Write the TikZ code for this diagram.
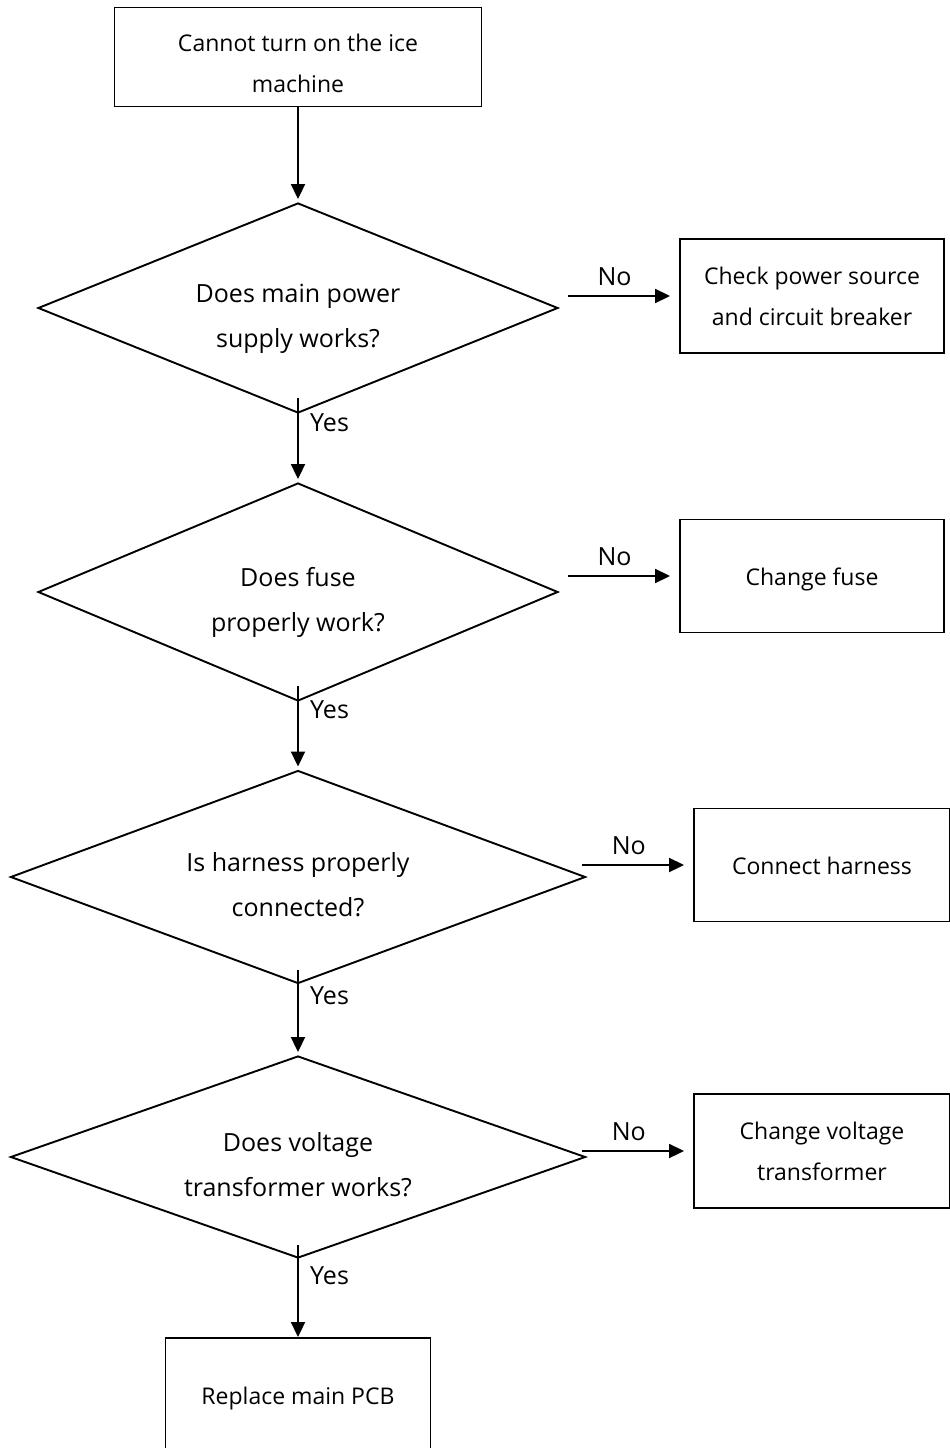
\documentclass[tikz,border=0pt]{standalone}
\usepackage{fontspec}
\setmainfont{Open Sans}
\usetikzlibrary{shapes.geometric,arrows.meta,positioning}

\begin{document}
\begin{tikzpicture}[x=1pt,y=-1pt,
    every node/.style={font=\fontsize{23}{41}\selectfont, align=center},
    box/.style={draw, line width=1.9pt, inner sep=0pt},
    oneline/.style={text height=22pt, text depth=4pt},
    question/.style={draw, diamond, line width=1.9pt, inner sep=0pt, shape aspect=2.5, text height=84pt, text depth=6pt, font=\fontsize{25}{45}\selectfont},
    arr/.style={line width=1.9pt, -{Triangle[length=15pt,width=14pt]}},
    nolbl/.style={above=9pt, xshift=-9pt, inner sep=0pt, font=\fontsize{25}{30}\selectfont},
    yeslbl/.style={anchor=west, xshift=12pt, inner sep=0pt, font=\fontsize{25}{30}\selectfont}]

    % constants
    \def\axis{298}

    \useasboundingbox (0,0) rectangle (950,1448);

    % main column
    \node [box, minimum width=367pt, minimum height=99pt, text height=76pt, text depth=5pt] (start) at (\axis,57) {Cannot turn on the ice\\machine};
    \node [question, minimum width=520pt, minimum height=210pt] (q1) at (\axis,308) {Does main power\\supply works?};
    \node [question, minimum width=520pt, minimum height=218pt] (q2) at (\axis,592) {Does fuse\\properly work?};
    \node [question, minimum width=575pt, minimum height=213pt] (q3) at (\axis,877) {Is harness properly\\connected?};
    \node [question, minimum width=575pt, minimum height=202pt] (q4) at (\axis,1157) {Does voltage\\transformer works?};
    \node [box, oneline, minimum width=265pt, minimum height=114pt] (pcb) at (\axis,1395) {Replace main PCB};

    % what to do on a No
    \node [box, minimum width=264pt, minimum height=114pt] (a1) at (812,296) {Check power source\\and circuit breaker};
    \node [box, oneline, minimum width=264pt, minimum height=113pt] (a2) at (812,576) {Change fuse};
    \node [box, oneline, minimum width=256pt, minimum height=113pt] (a3) at (822,865) {Connect harness};
    \node [box, minimum width=256pt, minimum height=114pt] (a4) at (822,1151) {Change voltage\\transformer};

    % down the Yes branch
    \draw [arr, shorten >=3pt] (start) -- (q1);
    \draw [arr, shorten >=3pt] ([yshift=16pt]q1.south) -- (q2.north);
    \draw [arr, shorten >=3pt] ([yshift=16pt]q2.south) -- (q3.north);
    \draw [arr, shorten >=3pt] ([yshift=14pt]q3.south) -- (q4.north);
    \draw [arr] ([yshift=14pt]q4.south) -- (pcb);

    \node [yeslbl] (yes1) at ([yshift=-9pt]q1.south) {Yes};
    \node [yeslbl] (yes2) at ([yshift=-8pt]q2.south) {Yes};
    \node [yeslbl] (yes3) at ([yshift=-11pt]q3.south) {Yes};
    \node [yeslbl] (yes4) at ([yshift=-17pt]q4.south) {Yes};

    % No arrows
    \draw [arr, shorten >=9pt] (a1.west -| q1.east) ++(9,0) -- (a1.west) node [nolbl, midway] (no1) {No};
    \draw [arr, shorten >=9pt] (a2.west -| q2.east) ++(9,0) -- (a2.west) node [nolbl, midway] (no2) {No};
    \draw [arr, shorten >=9pt] (a3.west -| q3.east) ++(-4,0) -- (a3.west) node [nolbl, midway] (no3) {No};
    \draw [arr, shorten >=9pt] (a4.west -| q4.east) ++(-4,0) -- (a4.west) node [nolbl, midway] (no4) {No};

\end{tikzpicture}
\end{document}
